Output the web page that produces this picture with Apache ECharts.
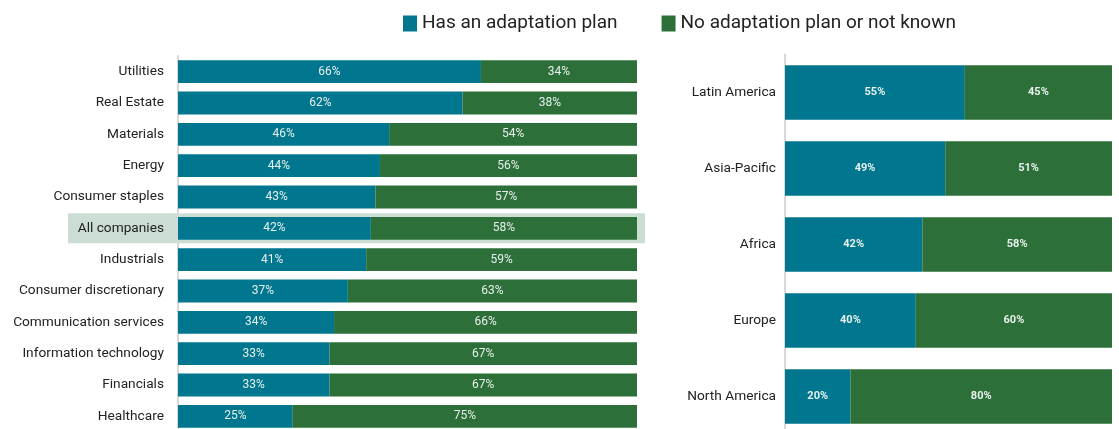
<!DOCTYPE html>
<html><head><meta charset="utf-8">
<script src="https://cdn.jsdelivr.net/npm/echarts@6/dist/echarts.min.js"></script>
<style>html,body{margin:0;padding:0;background:#fff}#c{width:1119px;height:429px}</style>
</head><body><div id="c"></div>
<script>
const sectors = ["Utilities","Real Estate","Materials","Energy","Consumer staples","All companies","Industrials","Consumer discretionary","Communication services","Information technology","Financials","Healthcare"];
const sectorHas = [66,62,46,44,43,42,41,37,34,33,33,25];
const sectorNo = [34,38,54,56,57,58,59,63,66,67,67,75];
const regions = ["Latin America","Asia-Pacific","Africa","Europe","North America"];
const regionHas = [55,49,42,40,20];
const regionNo = [45,51,58,60,80];
const seriesNames = ["Has an adaptation plan","No adaptation plan or not known"];
const highlightCat = "All companies";

const TEAL = "#00778E", GREEN = "#2D6F39", FONT = "Roboto, 'Liberation Sans', sans-serif";
const chart = echarts.init(document.getElementById('c'));
const lbl = (size, weight) => ({show:true, position:'inside', color:'#E6F0EC', fontSize:size, fontWeight:weight, fontFamily:FONT, formatter:p=>p.value+'%'});
const yAx = (cats, idx, margin) => ({type:'category', gridIndex:idx, data:cats, inverse:true,
  axisLine:{show:true, lineStyle:{color:'#D9D9D9', width:2}}, axisTick:{show:false},
  axisLabel:{color:'#222', fontSize:13.7, fontFamily:FONT, margin:margin}});
const xAx = idx => ({type:'value', gridIndex:idx, min:0, max:100, show:false});
chart.setOption({
  animation:false,
  textStyle:{fontFamily:FONT},
  legend:{top:9, left:398, itemWidth:14, itemHeight:16, itemGap:44, icon:'rect',
    textStyle:{fontSize:19, color:'#222', fontFamily:FONT}, data:seriesNames},
  grid:[{left:178, width:459, top:56, height:376, outerBoundsMode:'none', containLabel:false},
        {left:785, width:327, top:54.5, height:380, outerBoundsMode:'none', containLabel:false}],
  xAxis:[xAx(0), xAx(1)],
  yAxis:[yAx(sectors,0,14), yAx(regions,1,9)],
  series:[
    {name:seriesNames[0], type:'bar', stack:'a', xAxisIndex:0, yAxisIndex:0, data:sectorHas, itemStyle:{color:TEAL}, barCategoryGap:'27%', label:lbl(12,'normal'), z:3},
    {name:seriesNames[1], type:'bar', stack:'a', xAxisIndex:0, yAxisIndex:0, data:sectorNo, itemStyle:{color:GREEN}, barCategoryGap:'27%', label:lbl(12,'normal'), z:3},
    {name:seriesNames[0], type:'bar', stack:'b', xAxisIndex:1, yAxisIndex:1, data:regionHas, itemStyle:{color:TEAL}, barCategoryGap:'28%', label:lbl(11,'bold'), z:3},
    {name:seriesNames[1], type:'bar', stack:'b', xAxisIndex:1, yAxisIndex:1, data:regionNo, itemStyle:{color:GREEN}, barCategoryGap:'28%', label:lbl(11,'bold'), z:3}
  ]
});
// highlight band for the "All companies" row, positioned through the axis scale
const yc = chart.convertToPixel({yAxisIndex:0}, highlightCat);
const x100 = chart.convertToPixel({xAxisIndex:0}, 100);
chart.setOption({graphic:[{type:'rect', z:-1, silent:true,
  shape:{x:68, y:yc-15, width:(x100+8)-68, height:30}, style:{fill:'#CCDDD3'}}]});
</script></body></html>
